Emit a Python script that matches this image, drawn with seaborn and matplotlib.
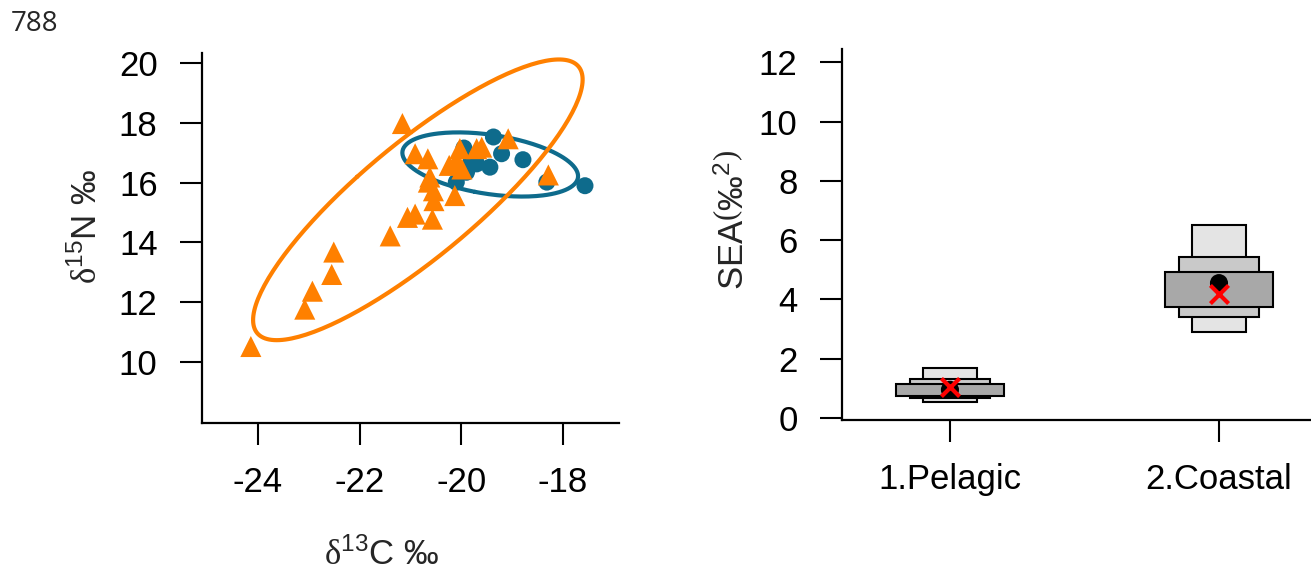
import numpy as np
import pandas as pd
import matplotlib
matplotlib.use("Agg")
import matplotlib.pyplot as plt
import seaborn as sns

# ---- isotope data (d13C, d15N) ----
pelagic_c = [-17.57, -18.32, -18.79, -19.37, -19.21, -19.44, -19.70, -19.80,
             -19.95, -20.10, -19.85, -19.90, -19.80, -19.90, -19.80]
pelagic_n = [15.90, 16.02, 16.77, 17.53, 16.97, 16.52, 16.63, 16.74,
             17.16, 16.02, 16.55, 16.35, 16.85, 16.45, 16.70]

coastal_c = [-24.14, -23.08, -22.93, -22.55, -22.51, -21.40, -21.06, -20.91,
             -20.57, -21.16, -20.91, -20.66, -20.62, -20.65, -20.55, -20.54,
             -20.13, -20.24, -20.03, -19.99, -20.10, -19.70, -19.60, -19.08,
             -18.29]
coastal_n = [10.52, 11.77, 12.37, 12.93, 13.68, 14.22, 14.84, 14.95,
             14.78, 17.98, 16.97, 16.80, 16.19, 16.02, 15.73, 15.40,
             15.57, 16.58, 17.14, 16.46, 16.74, 17.14, 17.19, 17.47,
             16.26]

# ---- posterior SEA summaries ----
groups = ["1.Pelagic", "2.Coastal"]
sea_lo95 = [0.53, 2.90]
sea_hi95 = [1.70, 6.52]
sea_lo75 = [0.68, 3.40]
sea_hi75 = [1.32, 5.43]
sea_lo50 = [0.75, 3.74]
sea_hi50 = [1.15, 4.92]
sea_mode = [0.95, 4.55]
sea_c = [1.06, 4.18]

BLUE = "#0E6B8C"
ORANGE = "#FF8000"
FS = 25

sns.set_style("ticks")
plt.rcParams["font.family"] = ["Liberation Sans", "DejaVu Sans"]
plt.rcParams["axes.unicode_minus"] = False
plt.rcParams["mathtext.fontset"] = "custom"
plt.rcParams["mathtext.rm"] = "Liberation Serif"
plt.rcParams["mathtext.sf"] = "Liberation Sans"
plt.rcParams["mathtext.it"] = "Liberation Sans:italic"

df = pd.concat([
    pd.DataFrame({"d13C": pelagic_c, "d15N": pelagic_n, "group": "Pelagic"}),
    pd.DataFrame({"d13C": coastal_c, "d15N": coastal_n, "group": "Coastal"}),
], ignore_index=True)

fig = plt.figure(figsize=(13.11, 5.76), dpi=100)
ax1 = fig.add_axes([0.1541, 0.2661, 0.3181, 0.6424])
ax2 = fig.add_axes([0.6423, 0.2708, 0.3577, 0.6436])


def ellipse_xy(x, y, p_chi2=5.991, n=200):
    """95% prediction ellipse from the sample covariance."""
    xy = np.column_stack([x, y])
    mu = xy.mean(axis=0)
    cov = np.cov(xy, rowvar=False)
    vals, vecs = np.linalg.eigh(cov)
    t = np.linspace(0, 2 * np.pi, n)
    circ = np.column_stack([np.cos(t), np.sin(t)])
    pts = circ * np.sqrt(vals * p_chi2) @ vecs.T + mu
    return pts[:, 0], pts[:, 1]


# ---- left panel: isotope biplot ----
sns.scatterplot(data=df[df.group == "Pelagic"], x="d13C", y="d15N", ax=ax1,
                marker="o", s=150, color=BLUE, edgecolor="none", legend=False,
                zorder=2)
ex, ey = ellipse_xy(pelagic_c, pelagic_n)
ax1.plot(ex, ey, color=BLUE, lw=3, zorder=3)
sns.scatterplot(data=df[df.group == "Coastal"], x="d13C", y="d15N", ax=ax1,
                marker="^", s=230, color=ORANGE, edgecolor="none", legend=False,
                zorder=4)
ex, ey = ellipse_xy(coastal_c, coastal_n)
ax1.plot(ex, ey, color=ORANGE, lw=3, zorder=5)

ax1.set_xlim(-25.10, -16.90)
ax1.set_ylim(7.97, 20.35)
ax1.set_xticks([-24, -22, -20, -18])
ax1.set_yticks([10, 12, 14, 16, 18, 20])
ax1.set_xlabel(r"$\mathrm{\delta}^{\mathsf{13}}$C ‰", fontsize=FS)
ax1.set_ylabel(r"$\mathrm{\delta}^{\mathsf{15}}$N ‰", fontsize=FS)
ax1.xaxis.set_label_coords(0.43, -0.31)
ax1.yaxis.set_label_coords(-0.235, 0.53)

# ---- right panel: SEA density boxes ----
xpos = np.arange(1, len(groups) + 1)
levels = [
    (sea_lo95, sea_hi95, 0.20, "#E4E4E4"),
    (sea_lo75, sea_hi75, 0.30, "#C9C9C9"),
    (sea_lo50, sea_hi50, 0.40, "#A8A8A8"),
]
for lo, hi, w, col in levels:
    lo = np.asarray(lo)
    hi = np.asarray(hi)
    ax2.bar(xpos, hi - lo, bottom=lo, width=w, color=col,
            edgecolor="black", linewidth=1.5, zorder=2)

sea_df = pd.DataFrame({"x": xpos, "mode": sea_mode, "sea_c": sea_c})
sns.scatterplot(data=sea_df, x="x", y="mode", ax=ax2, marker="o", s=170,
                color="black", edgecolor="none", legend=False, zorder=3)
sns.scatterplot(data=sea_df, x="x", y="sea_c", ax=ax2, marker="x", s=170,
                color="red", linewidth=3, legend=False, zorder=4)

ax2.set_xlim(0.599, 2.342)
ax2.set_ylim(-0.07, 12.44)
ax2.set_xticks(xpos)
ax2.set_xticklabels(groups)
ax2.set_yticks(np.arange(0, 13, 2))
ax2.set_xlabel("")
ax2.set_ylabel(r"SEA$\left(\mathsf{‰}^{\mathsf{2}}\right)$", fontsize=FS)
ax2.yaxis.set_label_coords(-0.195, 0.54)

for ax in (ax1, ax2):
    sns.despine(ax=ax)
    for side in ("left", "bottom"):
        ax.spines[side].set_linewidth(1.6)
        ax.spines[side].set_color("black")
    ax.tick_params(axis="both", labelsize=FS, length=16, width=1.5,
                   color="black", labelcolor="black")
    ax.tick_params(axis="y", pad=16)
    ax.tick_params(axis="x", pad=15)
    ax.grid(False)

fig.text(0.008, 0.958, "788", fontsize=20, family=["Open Sans", "DejaVu Sans"],
         va="center", ha="left")

fig.savefig("out.png", dpi=100, facecolor="white")
